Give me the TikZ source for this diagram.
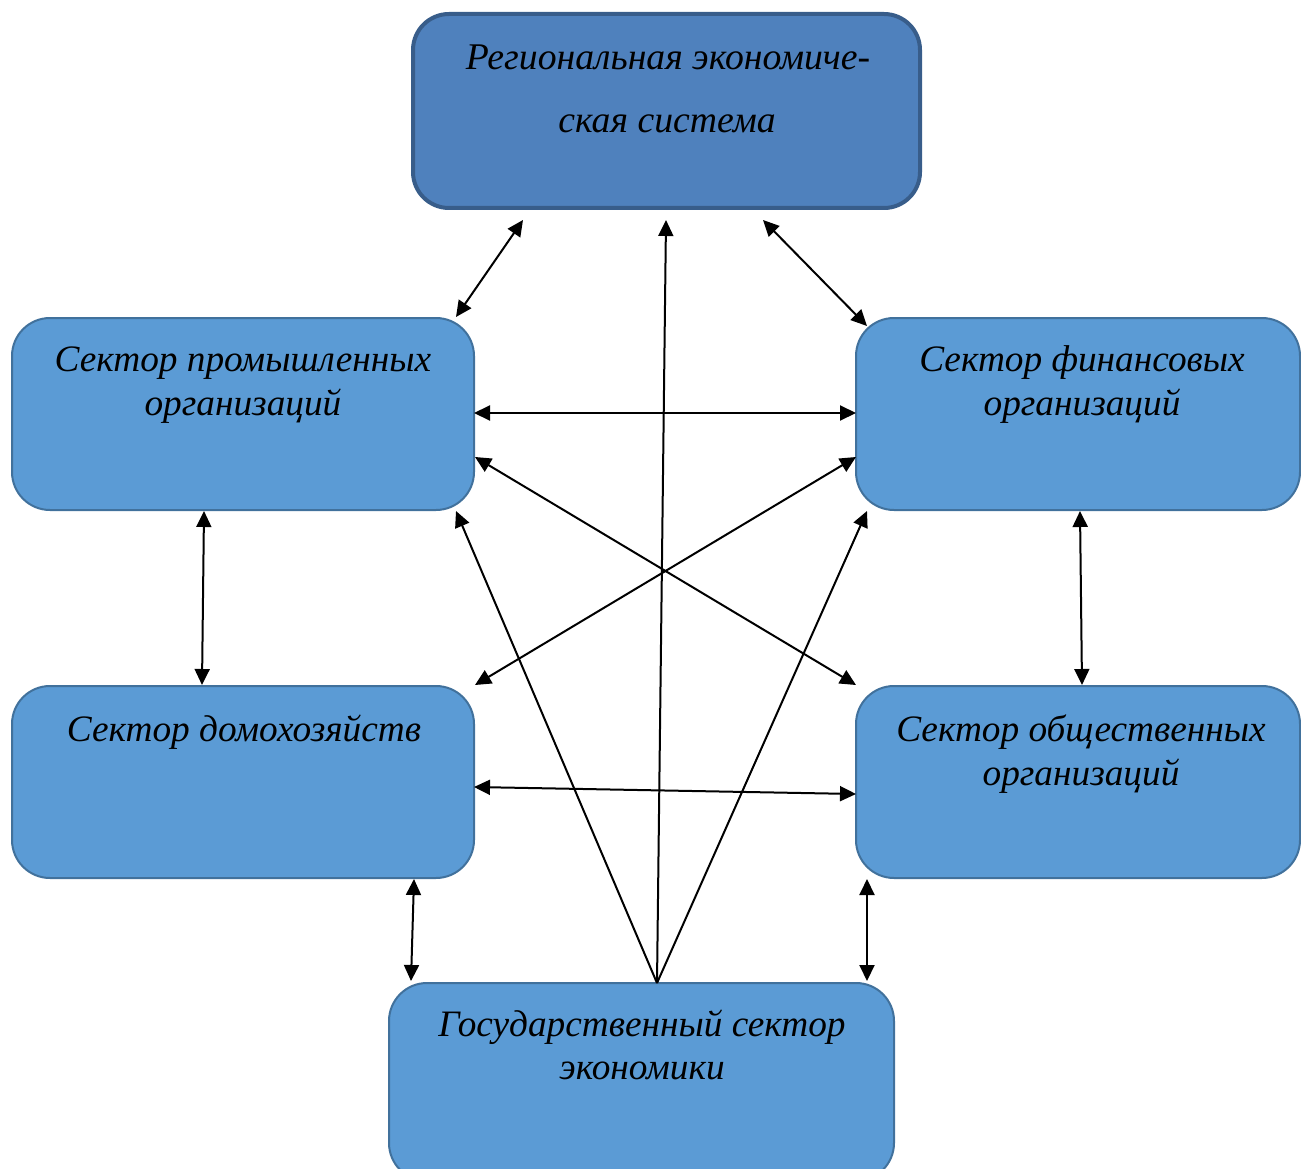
\documentclass[tikz,border=0pt]{standalone}
\usepackage{fontspec}
\setmainfont{Liberation Serif}
\usetikzlibrary{arrows.meta}
\definecolor{topfill}{HTML}{4F81BD}
\definecolor{topline}{HTML}{385D8A}
\definecolor{boxfill}{HTML}{5B9BD5}
\definecolor{boxline}{HTML}{41719C}
\tikzset{
  topbox/.style={draw=topline, fill=topfill, line width=4pt, rounded corners=36pt,
    minimum width=507pt, minimum height=194pt, inner sep=0pt, outer sep=0pt},
  secbox/.style={draw=boxline, fill=boxfill, line width=2pt, rounded corners=38pt,
    inner sep=0pt, outer sep=0pt},
  txt/.style={font=\fontsize{37.3}{44}\selectfont\itshape, text=black, anchor=base, inner sep=0pt},
  toptxt/.style={txt, font=\fontsize{37.7}{44}\selectfont\itshape},
  link/.style={line width=2pt, draw=black, {Triangle[length=16pt,width=15pt]}-{Triangle[length=16pt,width=15pt]}},
  onelink/.style={line width=2pt, draw=black, -{Triangle[length=16pt,width=15pt]}}
}
\begin{document}
\begin{tikzpicture}[x=1pt,y=-1pt]
\useasboundingbox (0,0) rectangle (1301,1169);
% boxes
\node[topbox] (top) at (666.5,111) {};
\node[secbox, minimum width=462pt, minimum height=192pt] (ind) at (243,414) {};
\node[secbox, minimum width=444pt, minimum height=192pt] (fin) at (1078,414) {};
\node[secbox, minimum width=462pt, minimum height=192pt] (hh) at (243,782) {};
\node[secbox, minimum width=444pt, minimum height=192pt] (pub) at (1078,782) {};
\node[secbox, minimum width=505pt, minimum height=198pt] (gov) at (641.5,1082) {};
% texts
\node[toptxt] (top1) at (668,70) {Региональная экономиче-};
\node[toptxt] (top2) at (667,133) {ская система};
\node[txt] (ind1) at (243,371) {Сектор промышленных};
\node[txt] (ind2) at (243,415) {организаций};
\node[txt] (fin1) at (1082,371) {Сектор финансовых};
\node[txt] (fin2) at (1082,415) {организаций};
\node[txt] (hh1) at (244,741) {Сектор домохозяйств};
\node[txt] (pub1) at (1081,741) {Сектор общественных};
\node[txt] (pub2) at (1081,785) {организаций};
\node[txt] (gov1) at (642,1036) {Государственный сектор};
\node[txt] (gov2) at (642,1079) {экономики};
% connector end points
\coordinate (topA) at (523,220);
\coordinate (topB) at (666,220);
\coordinate (topC) at (763,220);
\coordinate (indTop) at (456,317);
\coordinate (finTop) at (867,326);
\coordinate (indE1) at (474,413);
\coordinate (finW1) at (856,413);
\coordinate (indE2) at (475,457);
\coordinate (finW2) at (856,457);
\coordinate (indBR) at (456,511);
\coordinate (finBL) at (867,511);
\coordinate (indB) at (204,511);
\coordinate (finB) at (1080,511);
\coordinate (hhT) at (202,685);
\coordinate (pubT) at (1082,685);
\coordinate (hhTR) at (475,685);
\coordinate (pubTL) at (856,685);
\coordinate (hhE) at (474,787);
\coordinate (pubW) at (856,794);
\coordinate (hhB) at (414,879);
\coordinate (pubB) at (867,879);
\coordinate (govL) at (411,981);
\coordinate (govR) at (867,981);
\coordinate (govTop) at (657,983);
% connectors
\draw[link] (topA) -- (indTop);
\draw[link] (topC) -- (finTop);
\draw[onelink] (govTop) -- (topB);
\draw[link] (indE1) -- (finW1);
\draw[link] (indE2) -- (pubTL);
\draw[link] (finW2) -- (hhTR);
\draw[link] (indB) -- (hhT);
\draw[link] (finB) -- (pubT);
\draw[link] (hhE) -- (pubW);
\draw[link] (hhB) -- (govL);
\draw[link] (pubB) -- (govR);
\draw[onelink] (govTop) -- (indBR);
\draw[onelink] (govTop) -- (finBL);
\end{tikzpicture}
\end{document}
